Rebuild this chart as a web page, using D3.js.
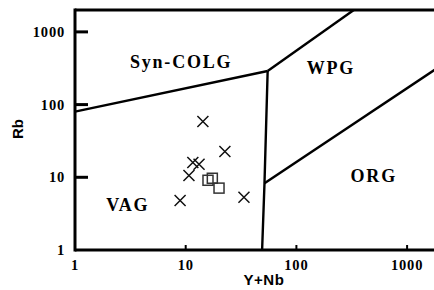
<!DOCTYPE html>
<html>
<head>
<meta charset="utf-8">
<script src="https://cdn.jsdelivr.net/npm/d3@7"></script>
<style>
  body { margin: 0; background: #fff; }
  svg { display: block; }
</style>
</head>
<body>
<svg width="434" height="290"></svg>
<script>
// data
const crossX = [14.3, 22.6, 11.6, 13.2, 10.7, 8.9, 33.6];
const crossY = [58.5, 22.7, 16.0, 15.1, 10.6, 4.8, 5.3];
const squareX = [15.9, 17.4, 20.0];
const squareY = [9.1, 9.7, 7.1];
const tickValues = [1, 10, 100, 1000];
// field boundaries (Pearce et al. 1984, as drawn)
const boundaries = [
  [[1, 80], [55, 290]],
  [[55, 290], [330, 2000]],
  [[55, 290], [51.5, 8.3], [49, 1]],
  [[51.5, 8.3], [2000, 340]]
];
const fields = [
  {name: "Syn-COLG", x: 9.1, y: 390},
  {name: "WPG", x: 205, y: 320},
  {name: "ORG", x: 500, y: 10.5},
  {name: "VAG", x: 3.0, y: 4.1}
];

const width = 434, height = 290;
const margin = {top: 10, left: 75, bottom: 40};

const svg = d3.select("svg");

const x = d3.scaleLog().domain([1, 2000]).range([margin.left, margin.left + 3.301 * 110.7]);
const y = d3.scaleLog().domain([1, 2000]).range([height - margin.bottom, margin.top]);

const serif = "'Liberation Serif', 'Times New Roman', serif";

// boundary lines
const line = d3.line().x(d => x(d[0])).y(d => y(d[1]));
svg.append("g")
  .selectAll("path")
  .data(boundaries)
  .join("path")
    .attr("d", line)
    .attr("fill", "none")
    .attr("stroke", "#000")
    .attr("stroke-width", 2.4)
    .attr("stroke-linejoin", "miter");

// frame: left, top, bottom
const frame = svg.append("g").attr("stroke", "#000").attr("stroke-width", 3);
frame.append("line").attr("x1", x(1)).attr("x2", x(1)).attr("y1", y(2000) - 1.5).attr("y2", y(1) + 1.5);
frame.append("line").attr("x1", x(1)).attr("x2", width).attr("y1", y(2000)).attr("y2", y(2000));
frame.append("line").attr("x1", x(1)).attr("x2", width).attr("y1", y(1)).attr("y2", y(1));

// y ticks (inward)
svg.append("g")
  .selectAll("line")
  .data(tickValues.slice(1))
  .join("line")
    .attr("x1", x(1)).attr("x2", x(1) + 13)
    .attr("y1", d => y(d)).attr("y2", d => y(d))
    .attr("stroke", "#000").attr("stroke-width", 3);

// x ticks (inward)
svg.append("g")
  .selectAll("line")
  .data(tickValues.slice(1))
  .join("line")
    .attr("x1", d => x(d)).attr("x2", d => x(d))
    .attr("y1", y(1)).attr("y2", y(1) - 5)
    .attr("stroke", "#000").attr("stroke-width", 2);

// y tick labels
svg.append("g")
  .selectAll("text")
  .data(tickValues)
  .join("text")
    .attr("x", margin.left - 10)
    .attr("y", d => y(d) + 5)
    .attr("text-anchor", "end")
    .attr("font-family", serif)
    .attr("font-weight", "bold")
    .attr("font-size", "14.5px")
    .attr("letter-spacing", "0.8px")
    .text(d => d);

// x tick labels
svg.append("g")
  .selectAll("text")
  .data(tickValues)
  .join("text")
    .attr("x", d => x(d))
    .attr("y", y(1) + 20)
    .attr("text-anchor", "middle")
    .attr("font-family", serif)
    .attr("font-weight", "bold")
    .attr("font-size", "14.5px")
    .attr("letter-spacing", "0.8px")
    .text(d => d);

// axis titles
svg.append("text")
  .attr("x", 264)
  .attr("y", 285)
  .attr("text-anchor", "middle")
  .attr("font-family", "'Liberation Sans', Arial, sans-serif")
  .attr("font-weight", "bold")
  .attr("font-size", "15px")
  .attr("letter-spacing", "0.5px")
  .text("Y+Nb");

svg.append("text")
  .attr("transform", "translate(23,129) rotate(-90)")
  .attr("text-anchor", "middle")
  .attr("font-family", "'Liberation Sans', Arial, sans-serif")
  .attr("font-weight", "bold")
  .attr("font-size", "15px")
  .text("Rb");

// field labels
svg.append("g")
  .selectAll("text")
  .data(fields)
  .join("text")
    .attr("x", d => x(d.x))
    .attr("y", d => y(d.y) + 6)
    .attr("text-anchor", "middle")
    .attr("font-family", serif)
    .attr("font-weight", "bold")
    .attr("font-size", "18px")
    .attr("letter-spacing", "1.8px")
    .text(d => d.name);

// crosses
const crosses = d3.zip(crossX, crossY);
const s = 5.5;
svg.append("g")
  .selectAll("path")
  .data(crosses)
  .join("path")
    .attr("d", d => {
      const cx = x(d[0]), cy = y(d[1]);
      return `M${cx - s},${cy - s}L${cx + s},${cy + s}M${cx - s},${cy + s}L${cx + s},${cy - s}`;
    })
    .attr("stroke", "#111")
    .attr("stroke-width", 1.5)
    .attr("fill", "none");

// squares
const squares = d3.zip(squareX, squareY);
svg.append("g")
  .selectAll("rect")
  .data(squares)
  .join("rect")
    .attr("x", d => x(d[0]) - 5)
    .attr("y", d => y(d[1]) - 5)
    .attr("width", 10)
    .attr("height", 10)
    .attr("fill", "none")
    .attr("stroke", "#333")
    .attr("stroke-width", 1.5);
</script>
</body>
</html>
